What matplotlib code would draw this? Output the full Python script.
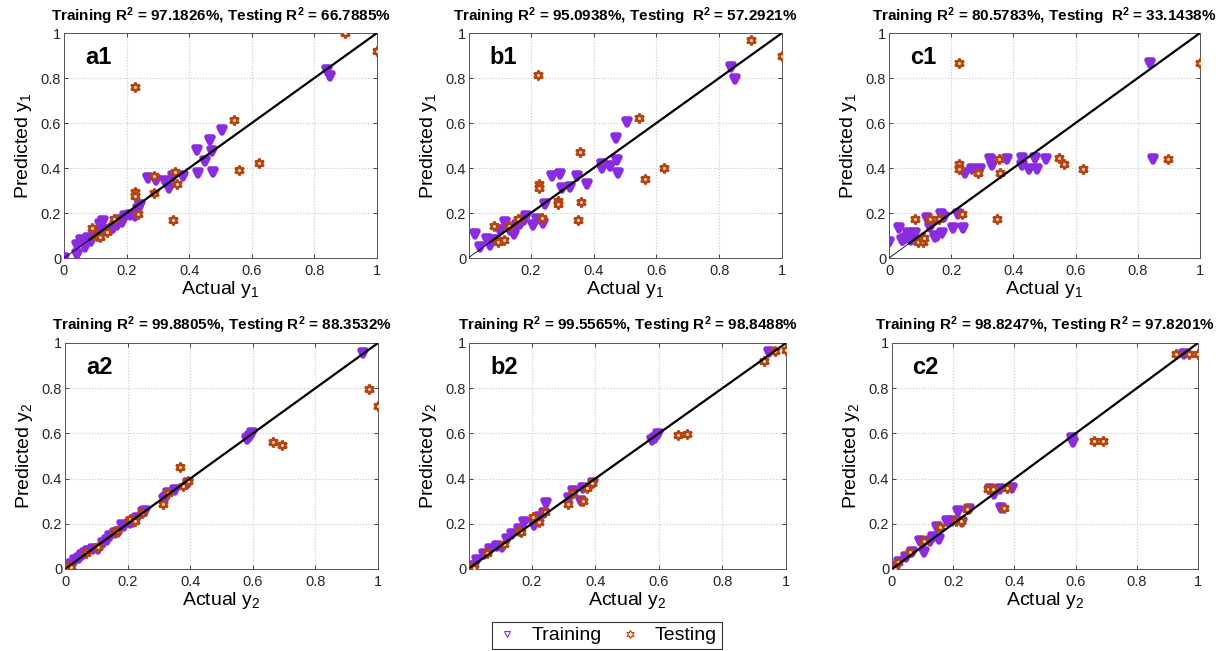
import numpy as np
import matplotlib
matplotlib.use("Agg")
import matplotlib.pyplot as plt
from matplotlib.ticker import FuncFormatter
from matplotlib.lines import Line2D
from matplotlib.markers import MarkerStyle

plt.rcParams['font.family'] = ['Liberation Sans', 'DejaVu Sans']
plt.rcParams['mathtext.default'] = 'regular'

# ---------------- data ----------------
panel_names = ["a1", "b1", "c1", "a2", "b2", "c2"]
titles = [
    "Training R$^2$ = 97.1826%, Testing R$^2$ = 66.7885%",
    "Training R$^2$ = 95.0938%, Testing  R$^2$ = 57.2921%",
    "Training R$^2$ = 80.5783%, Testing  R$^2$ = 33.1438%",
    "Training R$^2$ = 99.8805%, Testing R$^2$ = 88.3532%",
    "Training R$^2$ = 99.5565%, Testing R$^2$ = 98.8488%",
    "Training R$^2$ = 98.8247%, Testing R$^2$ = 97.8201%",
]
xlabels = ["Actual y$_1$"] * 3 + ["Actual y$_2$"] * 3
ylabels = ["Predicted y$_1$"] * 3 + ["Predicted y$_2$"] * 3

# a1
a1_train_x = [0.0, 0.04, 0.04, 0.055, 0.066, 0.077, 0.085, 0.095, 0.105, 0.115, 0.125, 0.13, 0.146, 0.155,
              0.168, 0.178, 0.186, 0.194, 0.21, 0.226, 0.242, 0.235, 0.267, 0.293, 0.322, 0.335, 0.349,
              0.379, 0.424, 0.428, 0.452, 0.468, 0.472, 0.477, 0.505, 0.84, 0.85]
a1_train_y = [0.0, 0.06, 0.02, 0.08, 0.05, 0.09, 0.075, 0.11, 0.12, 0.15, 0.163, 0.125, 0.126, 0.135,
              0.148, 0.17, 0.16, 0.185, 0.193, 0.185, 0.237, 0.22, 0.356, 0.348, 0.341, 0.311, 0.363,
              0.363, 0.481, 0.378, 0.43, 0.526, 0.474, 0.381, 0.567, 0.834, 0.807]
a1_test_x = [0.088, 0.105, 0.115, 0.136, 0.161, 0.226, 0.227, 0.227, 0.235, 0.288, 0.289, 0.349, 0.355,
             0.36, 0.544, 0.56, 0.622, 0.899, 1.0]
a1_test_y = [0.132, 0.1, 0.095, 0.117, 0.173, 0.76, 0.295, 0.276, 0.196, 0.287, 0.364, 0.169, 0.381,
             0.329, 0.615, 0.393, 0.422, 1.0, 0.919]

# b1
b1_train_x = [0.023, 0.039, 0.06, 0.07, 0.086, 0.102, 0.118, 0.134, 0.145, 0.155, 0.165, 0.177, 0.185,
              0.208, 0.219, 0.24, 0.246, 0.267, 0.293, 0.299, 0.325, 0.347, 0.378, 0.426, 0.426, 0.453,
              0.471, 0.474, 0.479, 0.506, 0.837, 0.851]
b1_train_y = [0.105, 0.049, 0.086, 0.056, 0.079, 0.123, 0.16, 0.123, 0.108, 0.146, 0.15, 0.168, 0.186,
              0.146, 0.175, 0.156, 0.239, 0.364, 0.373, 0.309, 0.316, 0.366, 0.328, 0.42, 0.398, 0.41,
              0.532, 0.435, 0.376, 0.606, 0.847, 0.796]
b1_test_x = [0.084, 0.094, 0.113, 0.131, 0.159, 0.224, 0.227, 0.227, 0.235, 0.288, 0.288, 0.35, 0.355,
             0.361, 0.546, 0.564, 0.625, 0.901, 1.0]
b1_test_y = [0.144, 0.071, 0.082, 0.143, 0.172, 0.813, 0.328, 0.312, 0.178, 0.253, 0.242, 0.168, 0.472,
             0.247, 0.621, 0.351, 0.398, 0.967, 0.896]

# c1
c1_train_x = [0.0, 0.031, 0.041, 0.046, 0.055, 0.062, 0.07, 0.084, 0.121, 0.132, 0.148, 0.155, 0.167,
              0.171, 0.178, 0.207, 0.221, 0.239, 0.244, 0.266, 0.293, 0.325, 0.332, 0.378, 0.427, 0.427,
              0.451, 0.47, 0.477, 0.505, 0.839, 0.85]
c1_train_y = [0.071, 0.135, 0.079, 0.08, 0.089, 0.11, 0.08, 0.112, 0.176, 0.139, 0.095, 0.1, 0.196,
              0.11, 0.181, 0.135, 0.196, 0.135, 0.376, 0.394, 0.394, 0.438, 0.413, 0.438, 0.443, 0.413,
              0.394, 0.443, 0.394, 0.438, 0.866, 0.438]
c1_test_x = [0.084, 0.094, 0.11, 0.113, 0.132, 0.161, 0.224, 0.225, 0.225, 0.236, 0.286, 0.348, 0.354,
             0.358, 0.546, 0.563, 0.623, 0.898, 1.0]
c1_test_y = [0.175, 0.071, 0.071, 0.091, 0.175, 0.175, 0.866, 0.416, 0.394, 0.195, 0.376, 0.175, 0.438,
             0.376, 0.443, 0.416, 0.394, 0.438, 0.866]

# a2
a2_train_x = [0.0, 0.01, 0.02, 0.032, 0.045, 0.055, 0.064, 0.075, 0.09, 0.106, 0.12, 0.133, 0.145, 0.16,
              0.17, 0.181, 0.19, 0.208, 0.218, 0.229, 0.248, 0.255, 0.315, 0.323, 0.33, 0.351, 0.394,
              0.58, 0.585, 0.59, 0.597, 0.952]
a2_train_y = [0.0, 0.01, 0.02, 0.04, 0.05, 0.06, 0.069, 0.08, 0.09, 0.087, 0.115, 0.128, 0.145, 0.16,
              0.165, 0.195, 0.19, 0.202, 0.21, 0.224, 0.254, 0.255, 0.31, 0.32, 0.335, 0.35, 0.379,
              0.575, 0.58, 0.59, 0.6, 0.956]
a2_test_x = [0.011, 0.019, 0.067, 0.104, 0.158, 0.165, 0.208, 0.224, 0.245, 0.314, 0.33, 0.366, 0.376,
             0.394, 0.666, 0.693, 0.97, 1.0]
a2_test_y = [0.012, 0.009, 0.071, 0.096, 0.162, 0.167, 0.221, 0.214, 0.248, 0.289, 0.336, 0.45, 0.369,
             0.388, 0.56, 0.55, 0.796, 0.72]

# b2
b2_train_x = [0.005, 0.028, 0.049, 0.07, 0.091, 0.107, 0.123, 0.139, 0.16, 0.176, 0.207, 0.223, 0.239,
              0.246, 0.318, 0.329, 0.355, 0.36, 0.392, 0.58, 0.587, 0.597, 0.948]
b2_train_y = [0.012, 0.041, 0.066, 0.088, 0.103, 0.096, 0.132, 0.154, 0.176, 0.206, 0.194, 0.228, 0.25,
              0.294, 0.316, 0.346, 0.301, 0.36, 0.382, 0.57, 0.581, 0.596, 0.959]
b2_test_x = [0.012, 0.02, 0.06, 0.112, 0.16, 0.165, 0.205, 0.223, 0.242, 0.315, 0.329, 0.363, 0.374,
             0.39, 0.661, 0.69, 0.93, 0.966, 1.0]
b2_test_y = [0.007, 0.003, 0.069, 0.11, 0.169, 0.165, 0.228, 0.21, 0.253, 0.287, 0.338, 0.3, 0.36,
             0.379, 0.591, 0.596, 0.919, 0.963, 0.97]

# c2
c2_train_x = [0.005, 0.022, 0.047, 0.065, 0.093, 0.103, 0.123, 0.134, 0.147, 0.153, 0.18, 0.196, 0.215,
              0.229, 0.251, 0.321, 0.332, 0.354, 0.357, 0.392, 0.588, 0.591, 0.953]
c2_train_y = [0.007, 0.029, 0.051, 0.074, 0.125, 0.074, 0.125, 0.14, 0.184, 0.132, 0.213, 0.213, 0.257,
              0.206, 0.265, 0.353, 0.331, 0.353, 0.269, 0.36, 0.581, 0.562, 0.951]
c2_test_x = [0.01, 0.02, 0.06, 0.104, 0.158, 0.21, 0.224, 0.245, 0.314, 0.33, 0.367, 0.376, 0.659,
             0.69, 0.929, 0.97, 1.0]
c2_test_y = [0.0, 0.03, 0.074, 0.125, 0.184, 0.213, 0.213, 0.265, 0.353, 0.353, 0.269, 0.36, 0.566,
             0.566, 0.951, 0.951, 0.951]

fit_start = [0.08, 0.07, 0.065, 0.01, 0.01, 0.005]
x_left = [0.0, 0.003, 0.0, 0.0, 0.003, 0.0]

train_x = [a1_train_x, b1_train_x, c1_train_x, a2_train_x, b2_train_x, c2_train_x]
train_y = [a1_train_y, b1_train_y, c1_train_y, a2_train_y, b2_train_y, c2_train_y]
test_x = [a1_test_x, b1_test_x, c1_test_x, a2_test_x, b2_test_x, c2_test_x]
test_y = [a1_test_y, b1_test_y, c1_test_y, a2_test_y, b2_test_y, c2_test_y]

# ---------------- style ----------------
train_color = '#8A2BE2'
test_color = '#B5440F'
hexagram = (6, 1, 0)
train_marker = MarkerStyle('v', joinstyle='round')

W, H = 1228, 651
fig = plt.figure(figsize=(W / 100, H / 100), dpi=100)

# axes boxes in pixels: left, top, right, bottom
boxes = [(64, 33, 377, 258), (469, 33, 782, 258), (889, 33, 1200, 258),
         (65, 343, 378, 569), (469, 343, 786, 569), (892, 343, 1198, 569)]

fmt = FuncFormatter(lambda v, p: "%g" % round(v, 3))

for i, (l, t, r, b) in enumerate(boxes):
    ax = fig.add_axes([l / W, 1 - b / H, (r - l) / W, (b - t) / H])
    ax.set_xlim(x_left[i], 1)
    ax.set_ylim(0, 1)
    ax.set_xticks([0, 0.2, 0.4, 0.6, 0.8, 1.0] if x_left[i] == 0 else [0.2, 0.4, 0.6, 0.8, 1.0])
    ax.set_yticks([0, 0.2, 0.4, 0.6, 0.8, 1.0])
    ax.xaxis.set_major_formatter(fmt)
    ax.yaxis.set_major_formatter(fmt)
    ax.grid(True, color='#c8c8c8', linestyle=':', linewidth=0.8)
    ax.set_axisbelow(True)
    ax.tick_params(direction='in', length=3, labelsize=10.5, width=0.6, colors='#262626',
                   top=True, right=True)
    ax.tick_params(axis='x', pad=4)
    ax.tick_params(axis='y', pad=2)
    for s in ax.spines.values():
        s.set_color('#555555')
        s.set_linewidth(0.7)

    ax.plot(train_x[i], train_y[i], linestyle='none', marker=train_marker, markersize=5,
            markerfacecolor=train_color, markeredgecolor=train_color, markeredgewidth=4,
            zorder=3)
    ax.plot(test_x[i], test_y[i], linestyle='none', marker=hexagram, markersize=7,
            markerfacecolor='#f3d9c8', markeredgecolor=test_color, markeredgewidth=1.8,
            zorder=4)
    ax.plot([0, 1], [0, 1], color='black', linewidth=0.6, zorder=5)
    ax.plot([fit_start[i], 1], [fit_start[i], 1], color='black', linewidth=1.6, zorder=5)

    ax.set_title(titles[i], fontsize=11, fontweight='bold', pad=9)
    ax.set_xlabel(xlabels[i], fontsize=14, labelpad=1)
    ax.set_ylabel(ylabels[i], fontsize=14, labelpad=5)
    ax.text(0.11, 0.89, panel_names[i], transform=ax.transAxes, fontsize=17,
            fontweight='bold', ha='center', va='center')

handles = [Line2D([], [], linestyle='none', marker='v', markersize=5, markerfacecolor='none',
                  markeredgecolor=train_color, markeredgewidth=0.8, label='Training'),
           Line2D([], [], linestyle='none', marker=hexagram, markersize=6, markerfacecolor='none',
                  markeredgecolor=test_color, markeredgewidth=0.8, label='Testing')]
leg = fig.legend(handles=handles, loc='upper center', bbox_to_anchor=(607 / W, 1 - 622 / H),
                 ncol=2, fontsize=14, frameon=True, fancybox=False, edgecolor='black',
                 borderpad=0.25, handletextpad=0.8, columnspacing=0.9, handlelength=1.0,
                 borderaxespad=0)
leg.get_frame().set_linewidth(0.8)

fig.savefig('out.png', dpi=100)
